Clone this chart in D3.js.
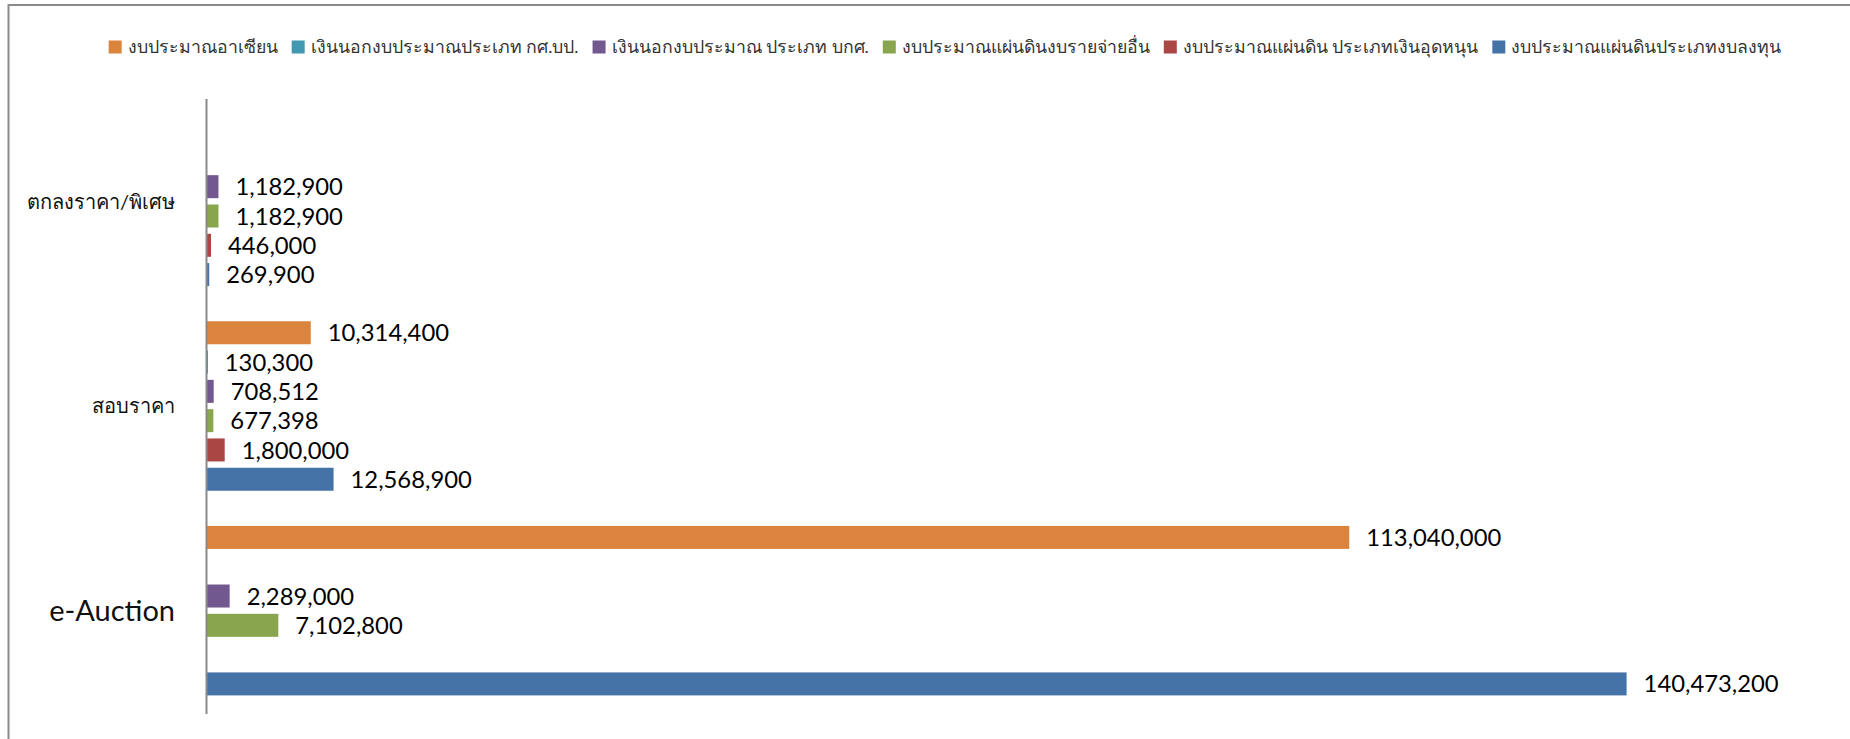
<!DOCTYPE html>
<html>
<head>
<meta charset="utf-8">
<script src="https://cdn.jsdelivr.net/npm/d3@7"></script>
<style>
  body { margin: 0; background: #fff; }
  svg { display: block; }
</style>
</head>
<body>
<div id="vis-holder"></div>
<script>
// Data
const categories = ["ตกลงราคา/พิเศษ", "สอบราคา", "e-Auction"];   // top to bottom
const seriesNames = [
  "งบประมาณอาเซียน",
  "เงินนอกงบประมาณประเภท กศ.บป.",
  "เงินนอกงบประมาณ ประเภท บกศ.",
  "งบประมาณแผ่นดินงบรายจ่ายอื่น",
  "งบประมาณแผ่นดิน ประเภทเงินอุดหนุน",
  "งบประมาณแผ่นดินประเภทงบลงทุน"
];
// values per category, same order as categories
const aseanBudget   = [null, 10314400, 113040000];
const extraKSBP     = [null, 130300, null];
const extraBKS      = [1182900, 708512, 2289000];
const otherExpense  = [1182900, 677398, 7102800];
const subsidy       = [446000, 1800000, null];
const investment    = [269900, 12568900, 140473200];
const seriesValues = [aseanBudget, extraKSBP, extraBKS, otherExpense, subsidy, investment];
const seriesColors = ["#DB843D", "#4198AF", "#71588F", "#89A54E", "#AA4643", "#4572A7"];

const width = 1850;
const height = 739;
const margin = { top: 99, right: 26, bottom: 26, left: 206.5 };

const svg = d3.select("#vis-holder")
              .append("svg")
              .attr("width", width)
              .attr("height", height);

// chart border (only top and left edges fall inside the picture)
svg.append("path")
   .attr("d", `M8.5,${height + 5} V5 H${width + 5}`)
   .attr("fill", "none")
   .attr("stroke", "#8a8a8a")
   .attr("stroke-width", 2);

// flatten into rows for the bars
const rows = [];
categories.forEach((c, ci) => {
  seriesNames.forEach((s, si) => {
    const v = seriesValues[si][ci];
    if (v !== null) rows.push({ category: c, series: s, value: v, color: seriesColors[si] });
  });
});

// Scales
const x = d3.scaleLinear()
            .domain([0, 160000000])
            .range([margin.left, width - margin.right]);

const y0 = d3.scaleBand()
             .domain(categories)
             .range([margin.top, height - margin.bottom]);

const y1 = d3.scaleBand()
             .domain(seriesNames)
             .range([0, y0.bandwidth()])
             .paddingInner(0.215)
             .paddingOuter(0.6);

// Bars
svg.selectAll(".bar")
   .data(rows)
   .enter()
   .append("rect")
     .attr("class", "bar")
     .attr("x", x(0))
     .attr("y", (d) => y0(d.category) + y1(d.series))
     .attr("width", (d) => Math.max(1.5, x(d.value) - x(0)))
     .attr("height", y1.bandwidth())
     .attr("fill", (d) => d.color);

// Value labels
svg.selectAll(".val")
   .data(rows)
   .enter()
   .append("text")
     .attr("class", "val")
     .attr("x", (d) => x(d.value) + 17)
     .attr("y", (d) => y0(d.category) + y1(d.series) + y1.bandwidth() / 2)
     .attr("dy", "0.36em")
     .attr("font-family", "Lato, 'Open Sans', sans-serif")
     .attr("font-size", "23.8px")
     .attr("fill", "#000")
     .text((d) => d3.format(",")(d.value));

// Category axis line
svg.append("line")
   .attr("x1", x(0)).attr("x2", x(0))
   .attr("y1", margin.top).attr("y2", height - margin.bottom + 1)
   .attr("stroke", "#8a8a8a")
   .attr("stroke-width", 2);

// Category labels
svg.selectAll(".cat")
   .data(categories)
   .enter()
   .append("text")
     .attr("class", "cat")
     .attr("x", 175)
     .attr("y", (d) => y0(d) + y0.bandwidth() / 2)
     .attr("dy", "0.36em")
     .attr("text-anchor", "end")
     .attr("font-family", "Lato, 'Open Sans', sans-serif")
     .attr("font-size", (d) => d === "e-Auction" ? "29px" : "20px")
     .attr("fill", "#111")
     .text((d) => d);

// Legend, laid out left to right and centred
const legend = svg.append("g").attr("class", "legend");
const items = legend.selectAll("g")
   .data(seriesNames)
   .enter()
   .append("g");

items.append("rect")
     .attr("width", 13)
     .attr("height", 13)
     .attr("y", -6.5)
     .attr("fill", (d, i) => seriesColors[i]);

items.append("text")
     .attr("x", 19)
     .attr("dy", "0.36em")
     .attr("font-family", "Lato, 'Open Sans', sans-serif")
     .attr("font-size", "17.7px")
     .attr("fill", "#333")
     .text((d) => d);

let cursor = 0;
items.each(function() {
  const g = d3.select(this);
  g.attr("transform", `translate(${cursor},0)`);
  cursor += 19 + g.select("text").node().getComputedTextLength() + 14;
});
const legendWidth = cursor - 14;
legend.attr("transform", `translate(${945 - legendWidth / 2},47)`);
</script>
</body>
</html>
